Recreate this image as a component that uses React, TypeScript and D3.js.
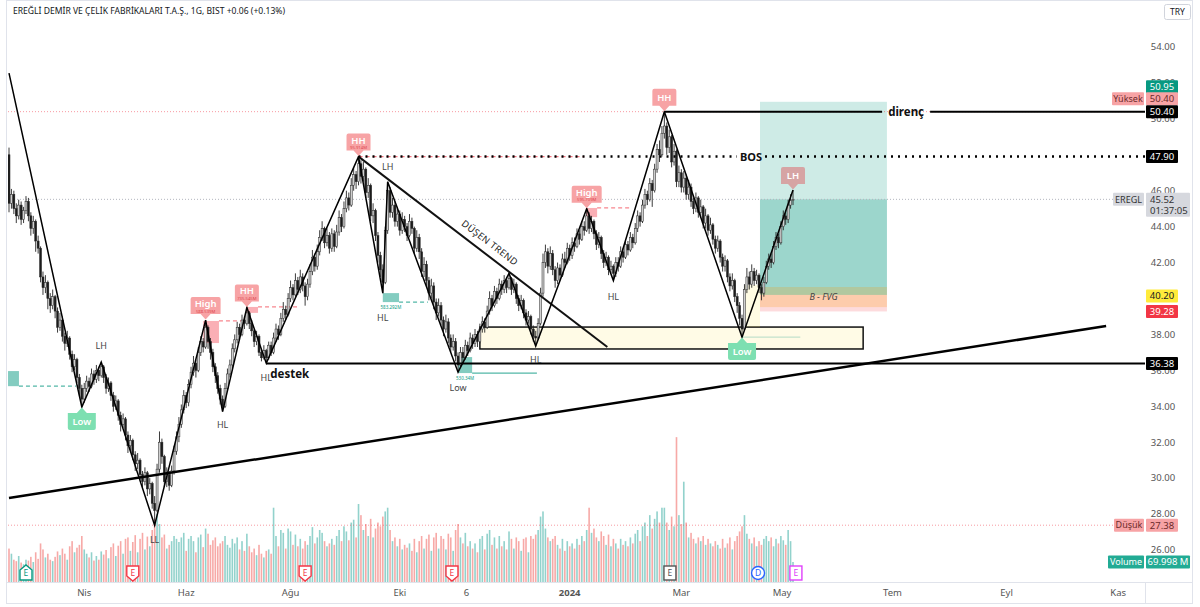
import * as d3 from 'd3';

// daily bars, EREGL / BIST
const firstOpen = 48.0;
const closes = [
  45.3, 45.8, 45.0, 44.6, 45.2, 44.4, 44.9, 45.4, 44.6, 43.9,
  44.3, 43.2, 42.8, 41.2, 40.6, 40.9, 40.0, 39.6, 40.1, 39.3,
  38.4, 38.8, 37.9, 37.5, 37.8, 36.9, 36.2, 36.6, 35.6, 35.0,
  34.4, 35.0, 35.4, 35.1, 35.8, 35.5, 36.0, 35.7, 36.2, 35.6,
  35.0, 35.3, 34.6, 34.0, 34.3, 33.5, 33.0, 33.3, 32.4, 31.8,
  32.1, 31.3, 30.8, 31.0, 30.2, 29.8, 30.3, 29.4, 29.7, 28.6,
  28.2, 30.5, 32.0, 31.2, 29.8, 30.2, 29.6, 30.4, 31.5, 32.3,
  33.0, 33.8, 34.6, 34.2, 35.2, 35.9, 36.4, 36.0, 37.0, 37.6,
  37.3, 38.4, 37.6, 37.0, 36.2, 35.7, 35.0, 34.4, 34.0, 35.0,
  35.8, 36.3, 37.2, 37.7, 38.4, 38.0, 38.8, 38.6, 39.2, 38.6,
  38.2, 37.6, 37.9, 37.0, 36.7, 37.1, 36.7, 37.4, 37.0, 37.8,
  38.3, 38.0, 38.9, 39.4, 39.1, 40.0, 40.6, 40.2, 41.0, 40.5,
  41.2, 40.7, 40.1, 40.8, 41.5, 42.3, 41.8, 42.6, 43.4, 43.9,
  43.1, 43.5, 42.8, 43.6, 42.9, 43.7, 44.5, 44.0, 45.0, 45.6,
  45.2, 46.3, 46.9, 46.5, 47.5, 46.8, 47.2, 45.9, 46.3, 44.6,
  44.9, 43.5, 42.4, 41.6, 40.9, 43.8, 46.0, 44.8, 45.2, 44.3,
  44.7, 43.8, 44.4, 44.0, 43.5, 44.3, 43.9, 42.8, 43.4, 42.6,
  41.5, 41.9, 41.0, 40.3, 40.7, 39.8, 39.2, 39.6, 38.8, 38.3,
  38.7, 37.8, 37.3, 37.6, 36.8, 36.3, 37.0, 36.7, 37.4, 37.1,
  37.8, 37.5, 38.0, 37.6, 38.3, 38.7, 38.4, 39.3, 40.0, 39.6,
  40.4, 40.0, 40.8, 40.5, 41.0, 40.6, 41.1, 40.5, 40.8, 40.0,
  39.6, 39.9, 39.2, 38.8, 39.0, 38.3, 37.9, 37.8, 38.6, 40.3,
  42.0, 42.6, 41.8, 42.5, 41.6, 41.0, 41.7, 41.3, 42.2, 42.0,
  42.8, 42.4, 43.1, 42.9, 43.6, 43.3, 44.0, 43.8, 44.6, 43.9,
  44.3, 43.6, 43.0, 43.4, 42.5, 42.0, 42.3, 41.6, 41.8, 41.4,
  42.0, 41.8, 42.6, 42.3, 43.0, 42.7, 43.4, 43.1, 43.9, 44.6,
  44.3, 45.2, 45.8, 45.5, 46.4, 46.0, 47.2, 48.3, 48.0, 49.2,
  49.6, 48.4, 49.0, 47.6, 48.2, 46.5, 47.0, 46.2, 46.7, 45.8,
  46.2, 45.4, 45.0, 45.6, 44.8, 45.1, 44.2, 44.6, 43.8, 44.1,
  43.3, 42.8, 43.2, 42.3, 41.8, 42.1, 41.2, 40.7, 41.0, 40.1,
  39.6, 38.9, 38.3, 40.5, 41.2, 40.8, 41.5, 41.0, 41.3, 40.6,
  40.3, 40.9, 41.8, 42.2, 42.0, 42.9, 43.4, 43.1, 44.0, 44.6,
  44.4, 45.2, 45.46, 45.52,
];
const highs = [
  48.4, 46.1, 46.0, 45.3, 45.5, 45.4, 45.1, 45.7, 45.6, 44.8,
  44.6, 44.4, 43.5, 42.9, 41.5, 41.3, 41.0, 40.3, 40.5, 40.2,
  39.5, 39.2, 39.0, 38.1, 38.2, 37.9, 37.1, 36.9, 36.7, 35.8,
  35.2, 35.3, 35.7, 35.6, 36.1, 36.0, 36.3, 36.2, 36.46, 36.3,
  35.8, 35.6, 35.4, 34.8, 34.6, 34.4, 33.7, 33.6, 33.4, 32.6,
  32.4, 32.2, 31.5, 31.4, 31.1, 30.4, 30.6, 30.4, 30.0, 29.8,
  29.0, 30.8, 32.6, 32.2, 31.3, 30.6, 30.4, 30.7, 31.8, 32.6,
  33.4, 34.1, 34.9, 34.8, 35.5, 36.2, 36.8, 36.6, 37.3, 37.9,
  37.8, 38.8, 38.5, 37.8, 37.2, 36.4, 35.9, 35.2, 34.6, 35.3,
  36.1, 36.6, 37.5, 38.0, 38.7, 38.6, 39.1, 39.0, 39.5, 39.3,
  38.8, 38.3, 38.2, 38.0, 37.2, 37.4, 37.2, 37.6, 37.6, 38.1,
  38.6, 38.5, 39.2, 39.8, 39.6, 40.3, 41.0, 40.8, 41.4, 41.2,
  41.6, 41.4, 40.9, 41.1, 41.9, 42.7, 42.5, 43.0, 43.8, 44.3,
  44.0, 43.9, 43.7, 43.9, 43.8, 44.1, 44.9, 44.7, 45.4, 46.0,
  45.9, 46.7, 47.3, 47.1, 47.9, 47.7, 47.6, 47.3, 46.7, 46.4,
  45.3, 45.0, 43.7, 42.6, 41.9, 44.0, 46.5, 46.2, 45.6, 45.4,
  45.1, 44.9, 44.8, 44.6, 44.2, 44.7, 44.5, 44.0, 43.8, 43.6,
  42.8, 42.3, 42.1, 41.2, 41.1, 40.9, 40.0, 40.0, 39.8, 39.0,
  39.1, 38.9, 38.0, 38.0, 37.8, 37.0, 37.3, 37.3, 37.7, 37.6,
  38.1, 38.0, 38.3, 38.2, 38.6, 39.0, 38.9, 39.6, 40.4, 40.2,
  40.7, 40.6, 41.1, 41.0, 41.3, 41.2, 41.4, 41.2, 41.1, 40.9,
  40.2, 40.2, 40.0, 39.4, 39.3, 39.1, 38.5, 38.2, 38.9, 40.6,
  42.5, 43.0, 42.8, 42.9, 42.7, 41.8, 42.0, 41.9, 42.5, 42.6,
  43.1, 43.0, 43.4, 43.4, 43.9, 43.8, 44.3, 44.3, 45.0, 44.8,
  44.6, 44.4, 43.8, 43.7, 43.5, 42.7, 42.6, 42.4, 42.1, 41.9,
  42.3, 42.3, 42.9, 42.8, 43.3, 43.2, 43.7, 43.6, 44.2, 44.9,
  44.8, 45.5, 46.1, 46.0, 46.7, 46.6, 47.5, 48.6, 48.8, 49.6,
  50.4, 49.8, 49.4, 49.1, 48.6, 48.3, 47.4, 47.2, 47.1, 46.9,
  46.6, 46.4, 45.6, 45.9, 45.7, 45.5, 45.2, 45.0, 44.7, 44.5,
  44.2, 43.5, 43.5, 43.3, 42.5, 42.4, 42.2, 41.4, 41.4, 41.1,
  40.3, 39.8, 39.1, 40.8, 41.7, 41.5, 41.9, 41.7, 41.6, 41.4,
  40.8, 41.2, 42.1, 42.5, 42.5, 43.2, 43.7, 43.6, 44.3, 44.9,
  44.9, 45.5, 45.8, 46.04,
];
const lows = [
  44.8, 45.0, 44.7, 44.2, 44.4, 44.1, 44.2, 44.7, 44.3, 43.5,
  43.6, 42.6, 42.5, 40.9, 40.2, 40.3, 39.4, 39.2, 39.4, 38.9,
  38.1, 38.2, 37.6, 37.1, 37.3, 36.6, 35.9, 36.0, 35.3, 34.6,
  33.96, 34.2, 34.8, 34.8, 35.0, 35.2, 35.3, 35.4, 35.6, 35.3,
  34.7, 34.8, 34.3, 33.7, 33.8, 33.2, 32.6, 32.8, 32.1, 31.4,
  31.5, 31.0, 30.4, 30.5, 29.9, 29.4, 29.6, 29.0, 29.1, 28.3,
  27.38, 28.1, 30.3, 30.8, 29.5, 29.5, 29.3, 29.5, 30.2, 31.3,
  32.0, 32.8, 33.6, 33.9, 34.0, 35.0, 35.7, 35.6, 35.9, 36.8,
  37.0, 37.2, 37.2, 36.6, 35.9, 35.3, 34.7, 34.1, 33.7, 33.9,
  34.8, 35.6, 36.1, 37.0, 37.5, 37.7, 37.9, 38.3, 38.5, 38.3,
  37.9, 37.3, 37.4, 36.8, 36.5, 36.6, 36.4, 36.6, 36.8, 36.9,
  37.6, 37.7, 37.9, 38.7, 38.8, 39.0, 39.8, 39.9, 40.1, 40.2,
  40.3, 40.4, 39.6, 39.9, 40.6, 41.3, 41.5, 41.6, 42.4, 43.2,
  42.8, 42.9, 42.5, 42.6, 42.6, 42.8, 43.5, 43.7, 43.9, 44.8,
  44.9, 45.1, 46.0, 46.1, 46.3, 46.4, 46.5, 45.6, 45.6, 44.3,
  44.2, 43.2, 42.0, 41.2, 40.3, 40.8, 43.6, 44.5, 44.5, 44.0,
  44.0, 43.5, 43.6, 43.7, 43.2, 43.4, 43.6, 42.5, 42.6, 42.2,
  41.2, 41.2, 40.7, 39.9, 40.0, 39.4, 38.8, 39.0, 38.5, 37.9,
  38.1, 37.5, 37.0, 37.1, 36.5, 35.9, 36.2, 36.4, 36.6, 36.8,
  37.0, 37.2, 37.3, 37.3, 37.5, 38.1, 38.1, 38.3, 39.1, 39.3,
  39.5, 39.7, 39.9, 40.2, 40.3, 40.3, 40.5, 40.2, 40.3, 39.7,
  39.3, 39.4, 38.9, 38.5, 38.6, 38.0, 37.6, 37.35, 37.7, 38.5,
  40.1, 41.7, 41.4, 41.6, 41.3, 40.6, 40.8, 41.0, 41.2, 41.7,
  41.9, 42.1, 42.2, 42.6, 42.8, 43.0, 43.2, 43.5, 43.7, 43.6,
  43.7, 43.3, 42.7, 42.8, 42.2, 41.7, 41.8, 41.3, 41.4, 41.0,
  41.2, 41.5, 41.7, 42.0, 42.2, 42.4, 42.6, 42.8, 43.0, 43.7,
  44.0, 44.2, 45.0, 45.2, 45.4, 45.1, 45.9, 47.0, 47.6, 47.9,
  48.9, 48.0, 48.1, 47.3, 47.4, 46.2, 46.2, 45.9, 45.9, 45.5,
  45.5, 45.1, 44.7, 44.8, 44.5, 44.5, 43.9, 43.9, 43.5, 43.6,
  43.0, 42.5, 42.6, 42.0, 41.5, 41.5, 40.9, 40.4, 40.5, 39.8,
  39.2, 38.5, 37.85, 38.2, 40.3, 40.5, 40.6, 40.7, 40.8, 40.3,
  39.9, 40.1, 40.8, 41.6, 41.7, 41.9, 42.7, 42.8, 43.0, 43.8,
  44.1, 44.2, 45.0, 45.2,
];
// volume, millions
const volumes = [
  117, 99, 78, 73, 91, 68, 62, 78, 75, 88,
  70, 104, 81, 135, 114, 86, 99, 78, 73, 88,
  107, 94, 117, 99, 78, 125, 143, 104, 120, 130,
  161, 114, 99, 86, 104, 75, 91, 78, 107, 96,
  112, 83, 122, 135, 91, 127, 143, 99, 151, 156,
  109, 140, 164, 104, 151, 172, 114, 159, 125, 182,
  221, 239, 203, 156, 166, 117, 130, 143, 161, 151,
  140, 156, 172, 109, 151, 161, 143, 104, 156, 166,
  122, 187, 169, 130, 146, 156, 125, 135, 143, 161,
  130, 120, 151, 135, 156, 114, 143, 109, 169, 125,
  104, 117, 94, 130, 99, 86, 109, 114, 99, 260,
  161, 125, 182, 172, 117, 187, 177, 130, 166, 125,
  151, 117, 143, 130, 161, 192, 135, 156, 182, 172,
  143, 125, 135, 151, 130, 161, 182, 143, 195, 177,
  146, 208, 218, 156, 273, 234, 182, 203, 161, 221,
  156, 187, 208, 195, 229, 247, 260, 182, 143, 156,
  125, 151, 114, 130, 120, 135, 109, 151, 104, 143,
  161, 117, 151, 166, 109, 156, 172, 117, 161, 151,
  114, 169, 156, 109, 182, 203, 156, 135, 172, 125,
  143, 117, 135, 104, 151, 161, 114, 169, 182, 130,
  156, 117, 161, 125, 143, 114, 177, 151, 117, 156,
  143, 109, 151, 156, 104, 161, 151, 166, 182, 229,
  247, 187, 156, 143, 151, 161, 130, 117, 151, 109,
  143, 125, 135, 117, 151, 130, 161, 143, 182, 260,
  172, 187, 156, 143, 177, 161, 130, 166, 125, 151,
  135, 117, 151, 130, 143, 125, 156, 135, 169, 182,
  143, 195, 208, 161, 234, 187, 221, 247, 208, 260,
  260, 208, 182, 229, 195, 507, 234, 203, 351, 208,
  156, 172, 151, 135, 156, 143, 161, 130, 151, 135,
  125, 143, 130, 117, 151, 120, 135, 156, 114, 143,
  161, 177, 195, 234, 169, 151, 135, 156, 125, 143,
  130, 151, 161, 143, 156, 125, 151, 135, 161, 146,
  130, 182, 143, 70,
];

// 40 and 48 sit fully under the price tags, as on the original
const priceTicks = [26, 28, 30, 32, 34, 36, 38, 42, 44, 46, 50, 52, 54];
const timeTicks: [number, string, boolean][] = [
  [31, 'Nis', false], [73, 'Haz', false], [116, 'Ağu', false], [161, 'Eki', false],
  [188.5, '6', false], [231, '2024', true], [277, 'Mar', false], [318.5, 'May', false],
  [364, 'Tem', false], [411, 'Eyl', false], [457, 'Kas', false],
];

// swing structure
const zigzag: [number, number][] = [
  [0, 52.55], [30, 33.96], [38, 36.46], [60, 27.38], [81, 38.8], [88, 33.7],
  [98, 39.5], [106, 36.4], [144, 47.9], [154, 40.3], [156, 46.5], [185, 35.9],
  [206, 41.4], [217, 37.35], [238, 45.0], [249, 41.0], [270, 50.4], [302, 37.85],
  [323, 46.04],
];
const boxTags = [
  { i: 144, p: 47.9, text: 'HH', sub: '95.914M', up: false, fill: '#f7a3a5' },
  { i: 81, p: 38.8, text: 'High', sub: '588.539M', up: false, fill: '#f7a3a5' },
  { i: 98, p: 39.5, text: 'HH', sub: '735.545M', up: false, fill: '#f7a3a5' },
  { i: 238, p: 45.0, text: 'High', sub: '595.709M', up: false, fill: '#f7a3a5' },
  { i: 270, p: 50.4, text: 'HH', sub: '', up: false, fill: '#f7a3a5' },
  { i: 323, p: 46.04, text: 'LH', sub: '', up: false, fill: '#d6a4a4' },
  { i: 30, p: 33.96, text: 'Low', sub: '', up: true, fill: '#7ddfb1' },
  { i: 302, p: 37.85, text: 'Low', sub: '', up: true, fill: '#7ddfb1' },
];
const textTags = [
  { i: 38, p: 36.46, text: 'LH', dy: -16 },
  { i: 60, p: 27.38, text: 'LL', dy: 15 },
  { i: 88, p: 33.7, text: 'HL', dy: 13 },
  { i: 106, p: 36.4, text: 'HL', dy: 15 },
  { i: 156, p: 46.5, text: 'LH', dy: -15 },
  { i: 154, p: 40.3, text: 'HL', dy: 25 },
  { i: 185, p: 35.9, text: 'Low', dy: 16 },
  { i: 217, p: 37.35, text: 'HL', dy: 14 },
  { i: 249, p: 41.0, text: 'HL', dy: 16 },
];
const bullBlocks = [
  { i0: -0.4, i1: 4.1, top: 35.96, bot: 35.12, ext: 27.6, dashed: true, note: '' },
  { i0: 154, i1: 160.7, top: 40.3, bot: 39.8, ext: 172.6, dashed: true, note: '583.292M' },
  { i0: 185, i1: 190.8, top: 36.74, bot: 35.85, ext: 217.5, dashed: false, note: '530.34M' },
];
const bearBlocks = [
  { i0: 80, i1: 86.5, top: 38.75, bot: 37.52, ext: 98 },
  { i0: 98, i1: 102.6, top: 39.53, bot: 39.2, ext: 119.9 },
  { i0: 237.7, i1: 242.3, top: 45.04, bot: 44.53, ext: 256.7 },
];
const risingLine: [number, number][] = [[0, 28.89], [452, 38.47]];
const fallingLine: [number, number][] = [[144, 47.9], [246.5, 37.3]];
const supportLevel = { i: 106, p: 36.38 };
const resistLevel = { i: 270, p: 50.4, labelI: 369.6 };
const bosLevel = { i: 144, p: 47.9, labelI: 305.7 };
const demandZone = { i0: 194, i1: 351.9, top: 38.41, bot: 37.19 };
const position = { i0: 309.4, i1: 361.7, target: 50.95, entry: 40.2, stop: 39.28, last: 45.52 };
const fvg = { i0: 309.4, i1: 361.7, top: 40.64, bot: 39.52 };
const smallGap = { i0: 303, i1: 309.4, top: 40.75, bot: 38.41 };
const dayHigh = 50.4;
const dayLow = 27.38;
const events: [number, string][] = [
  [7, 'E+'], [51, 'E-'], [122, 'E-'], [182.5, 'E-'], [272.3, 'E0'], [308.6, 'D'], [324.2, 'Em'],
];

const FONT = '"Noto Sans", "DejaVu Sans", sans-serif';
const L = 8, R = 1145, B = 582;

const x = d3.scaleLinear().domain([0, 323]).range([9, 793]);
const y = d3.scaleLinear().domain([26, 54]).range([550, 47]);
const yv = d3.scaleLinear().domain([0, 700]).range([B, B - 200]);

const opens = closes.map((c, i) => (i === 0 ? firstOpen : closes[i - 1]));

function AxisTag({ py, text, fill, color = '#fff', w = 32, h = 13, x0 = 1146 }: any) {
  return (
    <g>
      <rect x={x0} y={py - h / 2} width={w} height={h} fill={fill} rx={1} />
      <text x={x0 + w / 2} y={py + 3.3} textAnchor="middle" fontSize={9.5} fill={color} fontFamily={FONT}>
        {text}
      </text>
    </g>
  );
}

function PivotBox({ t }: any) {
  const cx = x(t.i);
  const py = y(t.p);
  const w = t.text.length === 2 ? 24 : t.text.length === 3 ? 28 : 30;
  const h = 17;
  let d: string;
  let top: number;
  if (!t.up) {
    const bot = py - 6;
    top = bot - h;
    d = `M${cx - w / 2},${top + 2} Q${cx - w / 2},${top} ${cx - w / 2 + 2},${top} H${cx + w / 2 - 2} Q${cx + w / 2},${top} ${cx + w / 2},${top + 2} V${bot} H${cx + 5} L${cx},${py - 0.5} L${cx - 5},${bot} H${cx - w / 2} Z`;
  } else {
    top = py + 6;
    const bot = top + h;
    d = `M${cx - w / 2},${top} H${cx - 5} L${cx},${py + 0.5} L${cx + 5},${top} H${cx + w / 2} V${bot - 2} Q${cx + w / 2},${bot} ${cx + w / 2 - 2},${bot} H${cx - w / 2 + 2} Q${cx - w / 2},${bot} ${cx - w / 2},${bot - 2} Z`;
  }
  return (
    <g>
      <path d={d} fill={t.fill} />
      <text x={cx} y={top + (t.sub ? 10 : 12)} textAnchor="middle" fontSize={9.5} fontWeight={600} fill="#fff" fontFamily={FONT}>
        {t.text}
      </text>
      {t.sub && (
        <text x={cx} y={top + 15.5} textAnchor="middle" fontSize={4.2} fill="#e0464e" fontFamily={FONT}>
          {t.sub}
        </text>
      )}
    </g>
  );
}

function EventMark({ i, kind }: any) {
  const cx = x(i);
  const cy = 573;
  let shape;
  let color;
  if (kind === 'E+') {
    color = '#089981';
    shape = <path d={`M${cx - 6},${cy + 7} V${cy - 3} L${cx},${cy - 8} L${cx + 6},${cy - 3} V${cy + 7} Z`} fill="#fff" stroke={color} strokeWidth={1.4} />;
  } else if (kind === 'E-') {
    color = '#f23645';
    shape = <path d={`M${cx - 6},${cy - 7} H${cx + 6} V${cy + 3} L${cx},${cy + 8} L${cx - 6},${cy + 3} Z`} fill="#fff" stroke={color} strokeWidth={1.4} />;
  } else if (kind === 'D') {
    color = '#2962ff';
    shape = <circle cx={cx} cy={cy} r={6.5} fill="#fff" stroke={color} strokeWidth={1.4} />;
  } else {
    color = kind === 'Em' ? '#e040fb' : '#555';
    shape = <rect x={cx - 6} y={cy - 7} width={12} height={14} fill="#fff" stroke={color} strokeWidth={1.4} />;
  }
  return (
    <g>
      {shape}
      <text x={cx} y={cy + 3.2} textAnchor="middle" fontSize={8.5} fill={color} fontFamily={FONT}>
        {kind === 'D' ? 'D' : 'E'}
      </text>
    </g>
  );
}

export default function App() {
  const zig = d3.line<[number, number]>().x((d) => x(d[0])).y((d) => y(d[1]));

  const fx1 = x(fallingLine[0][0]), fy1 = y(fallingLine[0][1]);
  const fx2 = x(fallingLine[1][0]), fy2 = y(fallingLine[1][1]);
  const ang = (Math.atan2(fy2 - fy1, fx2 - fx1) * 180) / Math.PI;
  const tx = fx1 + (fx2 - fx1) * 0.5;
  const ty = fy1 + (fy2 - fy1) * 0.5;
  const nrm = (ang * Math.PI) / 180;
  const labX = tx + Math.sin(nrm) * 8;
  const labY = ty - Math.cos(nrm) * 8;

  const resX = x(resistLevel.labelI);
  const bosX = x(bosLevel.labelI);

  return (
    <svg width={1200} height={607} style={{ position: 'absolute', left: 0, top: 0, display: 'block', background: '#fff' }} fontFamily={FONT}>
      <defs>
        <clipPath id="plot">
          <rect x={L} y={24} width={R - L} height={B - 24} />
        </clipPath>
      </defs>
      <rect x={0} y={0} width={1200} height={607} fill="#fff" />
      <rect x={6.5} y={0.5} width={1186} height={603} fill="none" stroke="#e0e3eb" />
      <line x1={6.5} x2={1192.5} y1={B + 0.5} y2={B + 0.5} stroke="#e0e3eb" />
      <line x1={R + 0.5} x2={R + 0.5} y1={B} y2={604} stroke="#e0e3eb" />

      {/* header */}
      <text x={13} y={14} fontSize={8.6} fill="#131722" textLength={272} lengthAdjust="spacingAndGlyphs">
        EREĞLİ DEMİR VE ÇELİK FABRİKALARI T.A.Ş., 1G, BIST  +0.06 (+0.13%)
      </text>
      <rect x={1164.5} y={4.5} width={26} height={15} fill="#fff" stroke="#d1d4dc" rx={2} />
      <text x={1177.5} y={15} textAnchor="middle" fontSize={8.5} fill="#131722">TRY</text>

      <g clipPath="url(#plot)">
        {/* volume */}
        {volumes.map((v, i) => (
          <rect key={'v' + i} x={x(i) - 0.8} y={yv(v)} width={1.6} height={B - yv(v)}
            fill={closes[i] >= opens[i] ? 'rgba(38,166,154,0.5)' : 'rgba(239,83,80,0.5)'} />
        ))}

        {/* zones */}
        <rect x={x(demandZone.i0)} y={y(demandZone.top)} width={x(demandZone.i1) - x(demandZone.i0)}
          height={y(demandZone.bot) - y(demandZone.top)} fill="#fffbe6" stroke="#111" strokeWidth={1.5} />
        <rect x={x(smallGap.i0)} y={y(smallGap.top)} width={x(smallGap.i1) - x(smallGap.i0)}
          height={y(smallGap.bot) - y(smallGap.top)} fill="rgba(255,235,59,0.14)" />
        <rect x={x(position.i0)} y={y(position.target)} width={x(position.i1) - x(position.i0)}
          height={y(position.entry) - y(position.target)} fill="rgba(8,153,129,0.2)" />
        <rect x={x(position.i0)} y={y(position.last)} width={x(position.i1) - x(position.i0)}
          height={y(position.entry) - y(position.last)} fill="rgba(8,153,129,0.25)" />
        <rect x={x(position.i0)} y={y(position.entry)} width={x(position.i1) - x(position.i0)}
          height={y(position.stop) - y(position.entry)} fill="rgba(242,54,69,0.18)" />
        <rect x={x(fvg.i0)} y={y(fvg.top)} width={x(fvg.i1) - x(fvg.i0)}
          height={y(fvg.bot) - y(fvg.top)} fill="rgba(255,152,0,0.22)" />
        <text x={(x(fvg.i0) + x(fvg.i1)) / 2} y={y(fvg.top) + 13} textAnchor="middle" fontSize={9} fontStyle="italic" fill="#444">
          B - FVG
        </text>

        {bullBlocks.map((b, k) => (
          <g key={'bb' + k}>
            <rect x={x(b.i0)} y={y(b.top)} width={x(b.i1) - x(b.i0)} height={y(b.bot) - y(b.top)} fill="rgba(8,153,129,0.5)" />
            <line x1={x(b.i1)} x2={x(b.ext)} y1={y(b.bot)} y2={y(b.bot)} stroke="rgba(8,153,129,0.7)" strokeWidth={1.3}
              strokeDasharray={b.dashed ? '4,3' : undefined} />
            {b.note && (
              <text x={(x(b.i0) + x(b.i1)) / 2} y={y(b.bot) + 7} textAnchor="middle" fontSize={4.5} fill="#089981">{b.note}</text>
            )}
          </g>
        ))}
        {bearBlocks.map((b, k) => (
          <g key={'rb' + k}>
            <rect x={x(b.i0)} y={y(b.top)} width={x(b.i1) - x(b.i0)} height={y(b.bot) - y(b.top)} fill="rgba(242,54,69,0.4)" />
            <line x1={x(b.i1)} x2={x(b.ext)} y1={y(b.top)} y2={y(b.top)} stroke="rgba(242,54,69,0.6)" strokeWidth={1.3} strokeDasharray="4,3" />
          </g>
        ))}
        <line x1={x(302)} x2={x(326)} y1={y(37.85)} y2={y(37.85)} stroke="rgba(8,153,129,0.3)" />

        {/* reference lines */}
        <line x1={L} x2={R} y1={y(dayHigh)} y2={y(dayHigh)} stroke="rgba(242,54,69,0.5)" strokeDasharray="1,2" />
        <line x1={L} x2={R} y1={y(dayLow)} y2={y(dayLow)} stroke="rgba(242,54,69,0.5)" strokeDasharray="1,2" />
        <line x1={L} x2={R} y1={y(position.last)} y2={y(position.last)} stroke="#b2b5be" strokeDasharray="1,2" />

        {/* candles */}
        {closes.map((c, i) => {
          const o = opens[i];
          const up = c >= o;
          const cx = x(i);
          const t = y(Math.max(o, c));
          const b = y(Math.min(o, c));
          return (
            <g key={'c' + i}>
              <line x1={cx} x2={cx} y1={y(highs[i])} y2={y(lows[i])} stroke="#262626" strokeWidth={0.9} />
              <rect x={cx - 1} y={t} width={2} height={Math.max(0.8, b - t)} fill={up ? '#d0d0d0' : '#1c1c1c'} stroke="#262626" strokeWidth={0.5} />
            </g>
          );
        })}

        {/* drawings */}
        <line x1={x(risingLine[0][0])} y1={y(risingLine[0][1])} x2={x(risingLine[1][0])} y2={y(risingLine[1][1])} stroke="#000" strokeWidth={2.5} />
        <line x1={fx1} y1={fy1} x2={fx2} y2={fy2} stroke="#111" strokeWidth={2} />
        <text x={labX} y={labY} textAnchor="middle" fontSize={9.5} fill="#222" letterSpacing={0.3}
          transform={`rotate(${ang},${labX},${labY})`}>
          DÜŞEN TREND
        </text>
        <line x1={x(supportLevel.i)} x2={R} y1={y(supportLevel.p)} y2={y(supportLevel.p)} stroke="#000" strokeWidth={2} />
        <text x={x(supportLevel.i) + 4} y={y(supportLevel.p) + 14} fontSize={11.5} fontWeight={700} fill="#111">destek</text>

        <line x1={x(resistLevel.i)} x2={resX - 24} y1={y(resistLevel.p)} y2={y(resistLevel.p)} stroke="#000" strokeWidth={2} />
        <line x1={resX + 24} x2={R} y1={y(resistLevel.p)} y2={y(resistLevel.p)} stroke="#000" strokeWidth={2} />
        <text x={resX} y={y(resistLevel.p) + 4} textAnchor="middle" fontSize={11.5} fontWeight={700} fill="#111">direnç</text>

        <line x1={x(bosLevel.i)} x2={x(237)} y1={y(bosLevel.p)} y2={y(bosLevel.p)} stroke="rgba(242,54,69,0.7)" strokeWidth={1.2} strokeDasharray="4,3" />
        <line x1={x(bosLevel.i)} x2={bosX - 14} y1={y(bosLevel.p)} y2={y(bosLevel.p)} stroke="#000" strokeWidth={2.5} strokeDasharray="2,5" />
        <line x1={bosX + 14} x2={R} y1={y(bosLevel.p)} y2={y(bosLevel.p)} stroke="#000" strokeWidth={2.5} strokeDasharray="2,5" />
        <text x={bosX} y={y(bosLevel.p) + 4} textAnchor="middle" fontSize={11} fontWeight={700} fill="#111">BOS</text>

        <path d={zig(zigzag) || ''} fill="none" stroke="#000" strokeWidth={1.5} />

        {textTags.map((t, k) => (
          <text key={'tt' + k} x={x(t.i)} y={y(t.p) + t.dy + 3} textAnchor="middle" fontSize={9} fill="#444">{t.text}</text>
        ))}
        {boxTags.map((t, k) => <PivotBox key={'bt' + k} t={t} />)}

        {events.map(([i, k], n) => <EventMark key={'ev' + n} i={i} kind={k} />)}
      </g>

      {/* price axis */}
      {priceTicks.map((p) => (
        <text key={'pt' + p} x={1163} y={y(p) + 3.3} textAnchor="middle" fontSize={9.5} fill="#555">{p.toFixed(2)}</text>
      ))}
      <AxisTag py={y(position.target) - 15} text="50.95" fill="#089981" />
      <rect x={1112} y={y(dayHigh) - 19.5} width={32} height={13} fill="#f7a3a5" rx={1} />
      <text x={1128} y={y(dayHigh) - 9.7} textAnchor="middle" fontSize={9} fill="#6b2a2a">Yüksek</text>
      <AxisTag py={y(dayHigh) - 13} text="50.40" fill="#f7a3a5" color="#6b2a2a" />
      <AxisTag py={y(resistLevel.p)} text="50.40" fill="#000" />
      <AxisTag py={y(bosLevel.p)} text="47.90" fill="#000" />
      <rect x={1113} y={y(position.last) - 6.5} width={31} height={13} fill="#d6d8de" rx={1} />
      <text x={1128.5} y={y(position.last) + 3.3} textAnchor="middle" fontSize={9} fill="#333">EREGL</text>
      <rect x={1146} y={y(position.last) - 6.5} width={44} height={24} fill="#d6d8de" rx={1} />
      <text x={1150} y={y(position.last) + 3.3} fontSize={9.5} fill="#333">{position.last.toFixed(2)}</text>
      <text x={1150} y={y(position.last) + 14.3} fontSize={9.5} fill="#333">01:37:05</text>
      <AxisTag py={y(position.entry) + 1} text="40.20" fill="#ffeb3b" color="#131722" />
      <AxisTag py={y(position.stop)} text="39.28" fill="#f23645" />
      <AxisTag py={y(supportLevel.p)} text="36.38" fill="#000" />
      <rect x={1114} y={y(dayLow) - 6.5} width={30} height={13} fill="#f7a3a5" rx={1} />
      <text x={1129} y={y(dayLow) + 3.2} textAnchor="middle" fontSize={9} fill="#6b2a2a">Düşük</text>
      <AxisTag py={y(dayLow)} text="27.38" fill="#f7a3a5" color="#6b2a2a" />
      <rect x={1108} y={yv(volumes[volumes.length - 1]) - 6.5} width={36} height={13} fill="#22ab94" rx={1} />
      <text x={1126} y={yv(volumes[volumes.length - 1]) + 3.2} textAnchor="middle" fontSize={9} fill="#fff">Volume</text>
      <AxisTag py={yv(volumes[volumes.length - 1])} text="69.998 M" fill="#22ab94" w={44} />

      {/* time axis */}
      {timeTicks.map(([i, lab, bold]) => (
        <text key={'tk' + lab} x={x(i)} y={596} textAnchor="middle" fontSize={9.5} fontWeight={bold ? 700 : 400} fill="#555">{lab}</text>
      ))}
    </svg>
  );
}
